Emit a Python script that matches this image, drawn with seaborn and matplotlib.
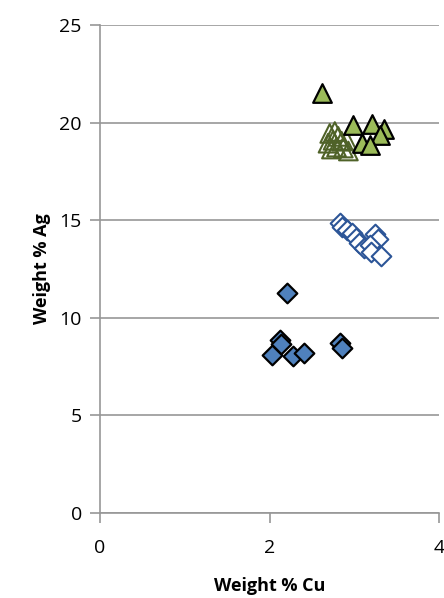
import pandas as pd
import seaborn as sns
import matplotlib.pyplot as plt
import numpy as np

# values
cu_blue_filled = [2.21, 2.12, 2.14, 2.03, 2.28, 2.41, 2.83, 2.85]
ag_blue_filled = [11.3, 8.85, 8.65, 8.1, 8.05, 8.2, 8.7, 8.45]

cu_blue_open = [2.83, 2.86, 2.91, 2.97, 3.02, 3.06, 3.12, 3.24, 3.28, 3.18, 3.20, 3.31]
ag_blue_open = [14.85, 14.65, 14.5, 14.35, 14.1, 13.85, 13.6, 14.3, 14.05, 13.75, 13.4, 13.15]

cu_green_filled = [2.62, 2.99, 3.21, 3.35, 3.30, 3.09, 3.18]
ag_green_filled = [21.5, 19.9, 19.95, 19.7, 19.35, 18.95, 18.85]

cu_green_open = [2.71, 2.77, 2.81, 2.75, 2.69, 2.85, 2.79, 2.87, 2.93, 2.73, 2.91]
ag_green_open = [19.45, 19.55, 19.3, 19.1, 18.95, 19.05, 18.75, 18.7, 18.55, 18.65, 19.1]

sns.set_style("white")
plt.rcParams['font.family'] = ['Open Sans', 'DejaVu Sans']
plt.rcParams['text.color'] = 'black'
plt.rcParams['axes.labelcolor'] = 'black'
plt.rcParams['xtick.labelcolor'] = 'black'
plt.rcParams['ytick.labelcolor'] = 'black'

fig = plt.figure(figsize=(4.44, 5.98), dpi=100)
ax = fig.add_axes([0.225, 0.142, 0.764, 0.816])

grid_col = "#979797"

sns.scatterplot(x=cu_blue_open, y=ag_blue_open, marker="D", s=100,
                facecolor="white", edgecolor="#2c5597", linewidth=1.5, ax=ax, zorder=3)
sns.scatterplot(x=cu_green_open, y=ag_green_open, marker="^", s=180,
                facecolor="none", edgecolor="#4f6228", linewidth=1.5, ax=ax, zorder=3)
sns.scatterplot(x=cu_blue_filled, y=ag_blue_filled, marker="D", s=100,
                facecolor="#4f81bd", edgecolor="black", linewidth=1.6, ax=ax, zorder=4)
sns.scatterplot(x=cu_green_filled, y=ag_green_filled, marker="^", s=180,
                facecolor="#9bbb59", edgecolor="black", linewidth=1.6, ax=ax, zorder=4)

ax.set_xlim(0, 4)
ax.set_ylim(0, 25)
ax.set_xticks([0, 2, 4])
ax.set_yticks(np.arange(0, 26, 5))
ax.yaxis.grid(True, color=grid_col, linewidth=1.2)
ax.set_axisbelow(True)

for side in ["top", "right"]:
    ax.spines[side].set_visible(False)
for side in ["left", "bottom"]:
    ax.spines[side].set_color(grid_col)
    ax.spines[side].set_linewidth(1.2)

ax.tick_params(axis="both", direction="out", length=7, width=1.2, color=grid_col,
               labelsize=14, bottom=True, left=True)
ax.tick_params(axis="x", pad=12)
ax.tick_params(axis="y", pad=6)
ax.set_xlabel("Weight % Cu", fontsize=13, fontweight="bold", labelpad=14)
ax.set_ylabel("Weight % Ag", fontsize=13, fontweight="bold", labelpad=6)

fig.savefig("out.png", dpi=100)
